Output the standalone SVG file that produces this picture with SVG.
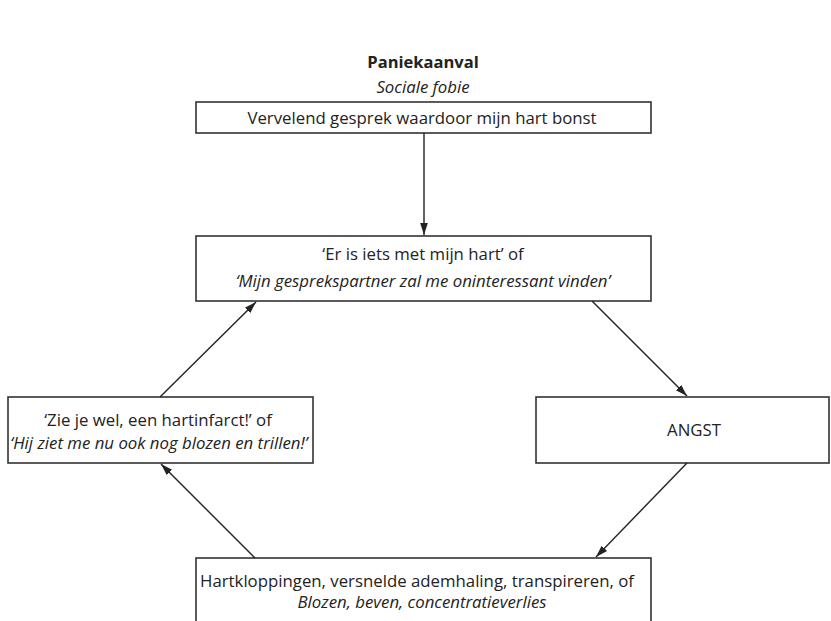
<svg xmlns="http://www.w3.org/2000/svg" width="831" height="621" viewBox="0 0 831 621">
<style>
.box{fill:#fff;stroke:#333;stroke-width:1.6}
.t{font-family:"Open Sans","Noto Sans","Liberation Sans",sans-serif;font-size:16.8px;fill:#222;text-anchor:middle}
.i{font-style:italic}
.b{font-weight:bold;font-size:16.5px}
.c{stroke:#222;stroke-width:1.4;fill:none;marker-end:url(#ah)}
</style>
<defs>
<marker id="ah" viewBox="0 0 12 10" refX="12" refY="5" markerWidth="12" markerHeight="10" markerUnits="userSpaceOnUse" orient="auto">
<path d="M0,1.2 L12,5 L0,8.8 Z" fill="#222"/>
</marker>
</defs>
<rect width="831" height="621" fill="#fff"/>
<g id="title">
<text class="t b" x="423" y="68">Paniekaanval</text>
<text class="t i" x="423" y="93">Sociale fobie</text>
</g>
<g id="n1">
<rect class="box" x="196" y="102" width="455" height="31"/>
<text class="t" x="422" y="124">Vervelend gesprek waardoor mijn hart bonst</text>
</g>
<g id="n2">
<rect class="box" x="196" y="236" width="455" height="65"/>
<text class="t" x="423" y="260">‘Er is iets met mijn hart’ of</text>
<text class="t i" x="423" y="287">‘Mijn gesprekspartner zal me oninteressant vinden’</text>
</g>
<g id="n3">
<rect class="box" x="8" y="397" width="305" height="66"/>
<text class="t" x="158" y="426">‘Zie je wel, een hartinfarct!’ of</text>
<text class="t i" x="159" y="449">‘Hij ziet me nu ook nog blozen en trillen!’</text>
</g>
<g id="n4">
<rect class="box" x="536" y="397" width="293" height="66"/>
<text class="t" x="694" y="436">ANGST</text>
</g>
<g id="n5">
<rect class="box" x="196" y="558" width="455" height="70"/>
<text class="t" x="417" y="587">Hartkloppingen, versnelde ademhaling, transpireren, of</text>
<text class="t i" x="422" y="608">Blozen, beven, concentratieverlies</text>
</g>
<g id="connectors">
<line class="c" x1="424" y1="133" x2="424" y2="235"/>
<line class="c" x1="592" y1="301" x2="687" y2="396"/>
<line class="c" x1="687" y1="463" x2="596" y2="557"/>
<line class="c" x1="255" y1="558" x2="161" y2="464"/>
<line class="c" x1="160" y1="397" x2="256" y2="302"/>
</g>
</svg>
